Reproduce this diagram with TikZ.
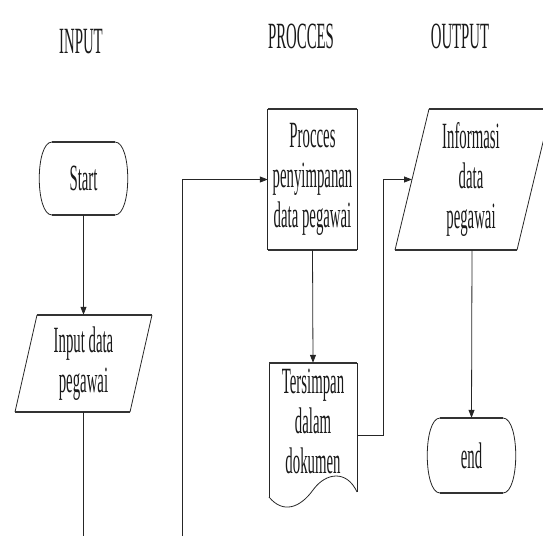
\documentclass[tikz,border=0pt]{standalone}
\usepackage{fontspec}
\setmainfont[FakeStretch=0.4]{Liberation Serif}
\usetikzlibrary{arrows.meta}
\begin{document}
\begin{tikzpicture}[x=1pt,y=-1pt,
  lbl/.style={font=\fontsize{37}{40}\selectfont, align=center, inner sep=0pt, text=black!90},
  box/.style={draw=none, inner sep=0pt},
  edge/.style={draw=black!85, line width=0.8pt},
  hedge/.style={draw=black!80, line width=1.5pt},
  flow/.style={edge, -{Triangle[length=8pt,width=6pt]}}]
\useasboundingbox (0,0) rectangle (543,536);
\clip (0,0) rectangle (543,536);

% headers
\node[lbl] (hin) at (81,42) {INPUT};
\node[lbl] (hpr) at (301,36) {PROCCES};
\node[lbl] (hout) at (460,36) {OUTPUT};

% Start terminal
\node[box, minimum width=87pt, minimum height=73pt] (start) at (83.5,178.5) {};
\draw[edge] (115,142) .. controls (132,142) and (132,215) .. (115,215);
\draw[edge] (52,215) .. controls (35,215) and (35,142) .. (52,142);
\draw[hedge] (52,142) -- (115,142);
\draw[hedge] (52,215) -- (115,215);
\node[lbl] (starttxt) at (start.center) {Start};

% Input parallelogram
\node[box, minimum width=115pt, minimum height=97pt] (inp) at (83.5,363.5) {};
\draw[edge] (15,412) -- (37,315);
\draw[edge] (130,412) -- (152,315);
\draw[hedge] (37,315) -- (152,315);
\draw[hedge] (15,412) -- (130,412);
\node[lbl] (inptxt) at (inp.center) {Input data\\pegawai};

% Process rectangle
\node[box, minimum width=89pt, minimum height=141pt] (proc) at (312.5,179.5) {};
\draw[edge] (proc.north west) -- (proc.south west);
\draw[edge] (proc.north east) -- (proc.south east);
\draw[hedge] (proc.north west) -- (proc.north east);
\draw[hedge] (proc.south west) -- (proc.south east);
\node[lbl] (proctxt) at (proc.center) {Procces\\penyimpanan\\data pegawai};

% Document
\node[box, minimum width=88pt, minimum height=114pt] (doc) at (313,420) {};
\draw[edge] (269,497) -- (269,363);
\draw[edge] (357,363) -- (357,492);
\draw[hedge] (269,363) -- (357,363);
\draw[edge] (269,497) .. controls (283,514) and (300,508) .. (313,490)
                      .. controls (326,472) and (347,470) .. (357,492);
\node[lbl] (doctxt) at (313,421) {Tersimpan\\dalam\\dokumen};

% Output parallelogram
\node[box, minimum width=122pt, minimum height=141pt] (out) at (473,179.5) {};
\draw[edge] (395,250) -- (429,109);
\draw[edge] (517,250) -- (551,109);
\draw[hedge] (429,109) -- (551,109);
\draw[hedge] (395,250) -- (517,250);
\node[lbl] (outtxt) at (471,179) {Informasi\\data\\pegawai};

% End terminal
\node[box, minimum width=87pt, minimum height=75pt] (end) at (471.5,455.5) {};
\draw[edge] (503,418) .. controls (520,418) and (520,493) .. (503,493);
\draw[edge] (440,493) .. controls (423,493) and (423,418) .. (440,418);
\draw[hedge] (440,418) -- (503,418);
\draw[hedge] (440,493) -- (503,493);
\node[lbl] (endtxt) at (end.center) {end};

% connectors
\coordinate (inpbot) at (83.5,536);
\coordinate (loopbot) at (182,536);
\coordinate (doc-r) at (357,435);
\coordinate (out-l) at (412,179.5);
\coordinate (out-b) at (472,250);

\draw[flow] (start.south) -- (inp.north);
\draw[edge] (inp.south) -- (inpbot);
\draw[flow] (loopbot) |- (proc.west);
\draw[flow] (proc.south) -- (doc.north);
\draw[flow] (doc-r) -- (383,435) |- (out-l);
\draw[flow] (out-b) -- (end.north);
\end{tikzpicture}
\end{document}
